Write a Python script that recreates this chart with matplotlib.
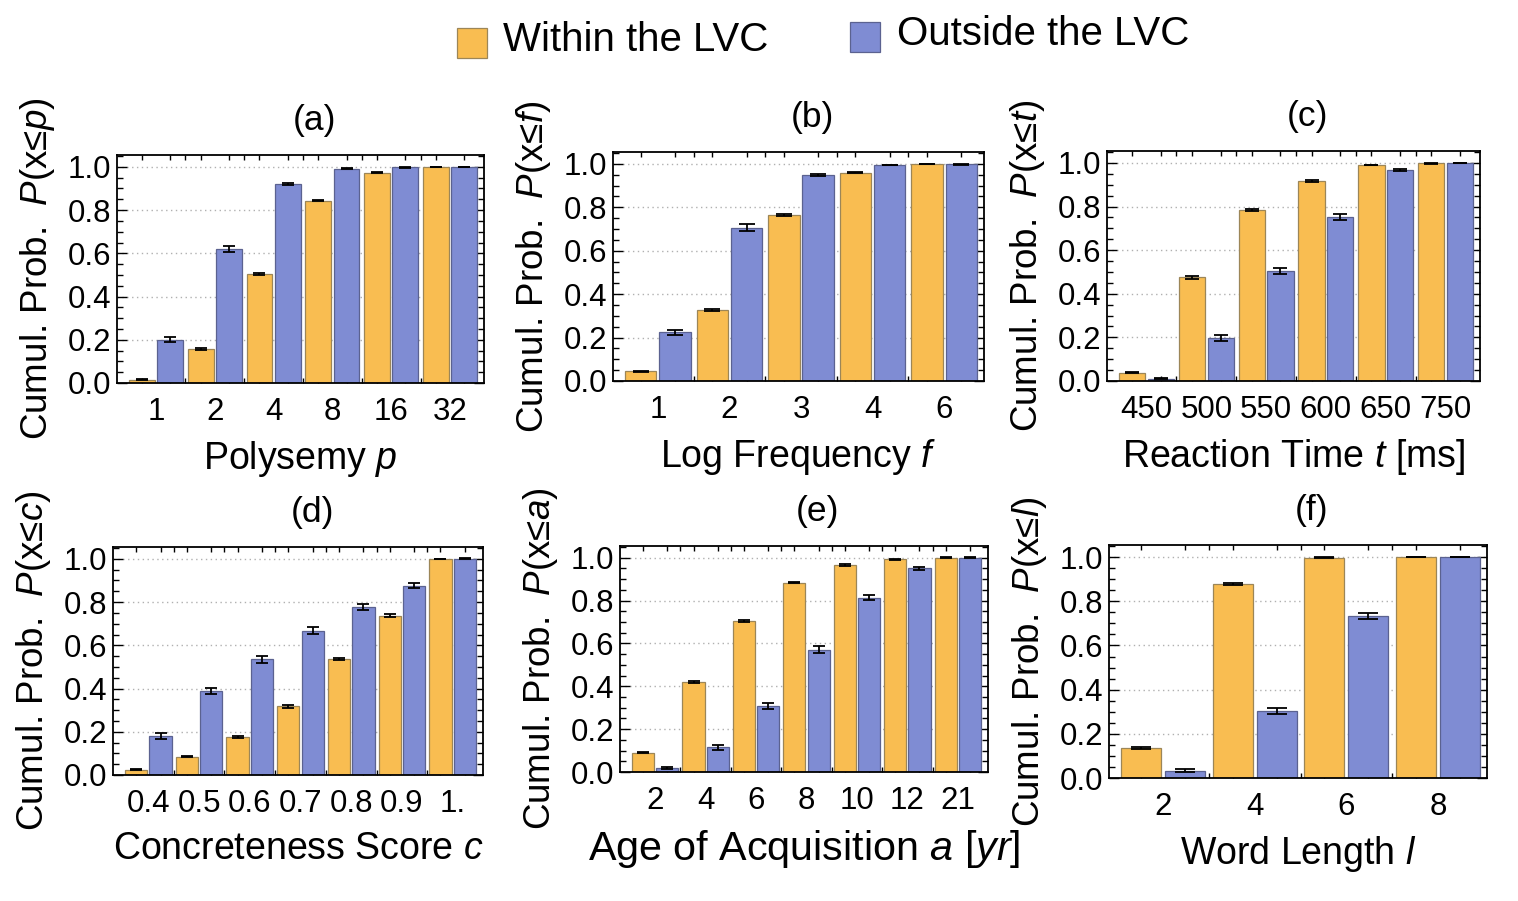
import numpy as np
import matplotlib
matplotlib.use("Agg")
import matplotlib.pyplot as plt
from matplotlib.patches import Rectangle
from matplotlib.ticker import FixedLocator, MultipleLocator, NullFormatter

plt.rcParams["font.family"] = ["Liberation Sans", "DejaVu Sans"]
plt.rcParams["mathtext.fontset"] = "custom"
plt.rcParams["mathtext.rm"] = "Liberation Sans"
plt.rcParams["mathtext.it"] = "Liberation Sans:italic"

cOrange = "#F9BD51"
cBlue = "#7F8CD3"
cEdgeO = "#9C8658"
cEdgeB = "#5B6290"

# ---------- data ----------
poly_labels = ["1", "2", "4", "8", "16", "32"]
poly_within = [0.015, 0.157, 0.506, 0.844, 0.974, 1.0]
poly_within_err = [0.003, 0.005, 0.005, 0.003, 0.002, 0.001]
poly_outside = [0.201, 0.619, 0.921, 0.992, 0.998, 1.0]
poly_outside_err = [0.012, 0.015, 0.006, 0.002, 0.001, 0.001]

freq_labels = ["1", "2", "3", "4", "6"]
freq_within = [0.044, 0.328, 0.763, 0.959, 1.0]
freq_within_err = [0.003, 0.005, 0.005, 0.002, 0.001]
freq_outside = [0.224, 0.706, 0.949, 0.995, 0.998]
freq_outside_err = [0.013, 0.015, 0.006, 0.002, 0.002]

rt_labels = ["450", "500", "550", "600", "650", "750"]
rt_within = [0.038, 0.475, 0.786, 0.917, 0.991, 0.999]
rt_within_err = [0.002, 0.006, 0.004, 0.003, 0.002, 0.002]
rt_outside = [0.011, 0.197, 0.504, 0.753, 0.969, 1.0]
rt_outside_err = [0.003, 0.012, 0.015, 0.013, 0.004, 0.001]

conc_labels = ["0.4", "0.5", "0.6", "0.7", "0.8", "0.9", "1."]
conc_within = [0.025, 0.085, 0.175, 0.317, 0.535, 0.738, 1.0]
conc_within_err = [0.003, 0.004, 0.004, 0.005, 0.005, 0.005, 0.001]
conc_outside = [0.18, 0.389, 0.535, 0.668, 0.777, 0.875, 1.0]
conc_outside_err = [0.013, 0.015, 0.015, 0.015, 0.013, 0.012, 0.002]

aoa_labels = ["2", "4", "6", "8", "10", "12", "21"]
aoa_within = [0.091, 0.42, 0.703, 0.884, 0.966, 0.992, 1.0]
aoa_within_err = [0.003, 0.004, 0.005, 0.004, 0.003, 0.002, 0.002]
aoa_outside = [0.02, 0.116, 0.307, 0.571, 0.813, 0.952, 1.0]
aoa_outside_err = [0.004, 0.011, 0.014, 0.015, 0.012, 0.007, 0.002]

len_labels = ["2", "4", "6", "8"]
len_within = [0.137, 0.879, 0.997, 1.0]
len_within_err = [0.004, 0.004, 0.002, 0.001]
len_outside = [0.033, 0.302, 0.732, 1.0]
len_outside_err = [0.007, 0.014, 0.014, 0.001]

W, H = 1518, 901
fig = plt.figure(figsize=(W / 100, H / 100), dpi=100)

BW = 0.44     # bar width
OFF = 0.24    # bar offset from group center


def panel(box, labels, within, within_err, outside, outside_err,
          title, xlabel, var, xl_size=27):
    l, r, t, b = box
    ax = fig.add_axes([l / W, 1 - b / H, (r - l) / W, (b - t) / H])
    n = len(labels)
    x = np.arange(1, n + 1)
    wpx = r - l
    lm, rm = 12, 7
    ppu = (wpx - lm - rm) / (n - 1 + 2 * (OFF + BW / 2))
    ax.set_xlim(1 - OFF - BW / 2 - lm / ppu, n + OFF + BW / 2 + rm / ppu)
    ax.set_ylim(0, 1.055)

    cap = BW * ppu * 0.25 * 0.72
    ax.bar(x - OFF, within, BW, color=cOrange, edgecolor=cEdgeO,
           linewidth=0.9, zorder=2)
    ax.bar(x + OFF, outside, BW, color=cBlue, edgecolor=cEdgeB,
           linewidth=0.9, zorder=2)
    ax.errorbar(x - OFF, within, yerr=within_err, fmt="none", ecolor="black",
                elinewidth=1.3, capsize=cap, capthick=1.3, zorder=3)
    ax.errorbar(x + OFF, outside, yerr=outside_err, fmt="none", ecolor="black",
                elinewidth=1.3, capsize=cap, capthick=1.3, zorder=3)

    for yv in [0.2, 0.4, 0.6, 0.8, 1.0]:
        ax.axhline(yv, color="#b0b0b0", linewidth=1.0,
                   linestyle=(0, (1, 2.5)), zorder=1)

    ax.set_yticks([0, 0.2, 0.4, 0.6, 0.8, 1.0])
    ax.set_yticklabels(["0.0", "0.2", "0.4", "0.6", "0.8", "1.0"])
    ax.yaxis.set_minor_locator(MultipleLocator(0.05))
    ax.set_xticks(x)
    ax.set_xticklabels(labels)
    minor_x = sorted(list(x - OFF) + list(x + OFF) + list(x[:-1] + 0.5))
    ax.xaxis.set_minor_locator(FixedLocator(minor_x))
    ax.xaxis.set_minor_formatter(NullFormatter())

    ax.tick_params(axis="both", which="both", direction="in",
                   top=True, right=True, width=1.0, color="black")
    ax.tick_params(axis="y", which="major", length=7, labelsize=22.5, pad=4)
    ax.tick_params(axis="y", which="minor", length=4)
    ax.tick_params(axis="x", which="major", length=0, labelsize=22.5, pad=10)
    ax.tick_params(axis="x", which="minor", length=3.5)
    for s in ax.spines.values():
        s.set_linewidth(1.3)

    ax.set_ylabel("Cumul. Prob.  $P$(x≤$%s$)" % var, fontsize=26.5, labelpad=8)
    ax.set_xlabel(xlabel, fontsize=xl_size, labelpad=9)
    ax.set_title(title, fontsize=25.5, pad=18, x=0.5 + 14 / wpx)
    return ax


panel((117, 484, 155, 383), poly_labels, poly_within, poly_within_err,
      poly_outside, poly_outside_err, "(a)", "Polysemy $p$", "p")
panel((613, 984, 152, 381), freq_labels, freq_within, freq_within_err,
      freq_outside, freq_outside_err, "(b)", "Log Frequency $f$", "f")
panel((1107, 1480, 151, 381), rt_labels, rt_within, rt_within_err,
      rt_outside, rt_outside_err, "(c)", "Reaction Time $t$ [ms]", "t")
panel((113, 483, 547, 775), conc_labels, conc_within, conc_within_err,
      conc_outside, conc_outside_err, "(d)", "Concreteness Score $c$", "c")
panel((620, 988, 546, 772), aoa_labels, aoa_within, aoa_within_err,
      aoa_outside, aoa_outside_err, "(e)", "Age of Acquisition $a$ [$yr$]",
      "a", xl_size=29.7)
panel((1109, 1487, 545, 778), len_labels, len_within, len_within_err,
      len_outside, len_outside_err, "(f)", "Word Length $l$", "l")

# ---------- legend ----------
fig.patches.append(Rectangle((457 / W, 1 - 58 / H), 30 / W, 30 / H,
                             transform=fig.transFigure, facecolor=cOrange,
                             edgecolor=cEdgeO, linewidth=0.9))
fig.text(503 / W, 1 - 40 / H, "Within the LVC", fontsize=29,
         ha="left", va="center")
fig.patches.append(Rectangle((850 / W, 1 - 52 / H), 30 / W, 30 / H,
                             transform=fig.transFigure, facecolor=cBlue,
                             edgecolor=cEdgeB, linewidth=0.9))
fig.text(897 / W, 1 - 34 / H, "Outside the LVC", fontsize=29,
         ha="left", va="center")

fig.savefig("out.png", dpi=100)
